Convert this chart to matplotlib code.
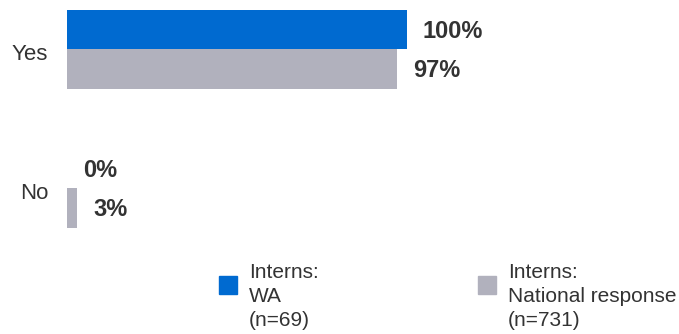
import numpy as np
import matplotlib
matplotlib.use("Agg")
import matplotlib.pyplot as plt
from matplotlib.patches import Rectangle

plt.rcParams['font.family'] = ['Liberation Sans', 'DejaVu Sans']

# -----------------------------
# Data
# -----------------------------
categories = ["Yes", "No"]
wa_values = [100, 0]
national_values = [97, 3]
series_labels = ["Interns:\nWA\n(n=69)", "Interns:\nNational response\n(n=731)"]
series_colors = ["#006AD0", "#B1B1BD"]
text_color = "#333333"

W, H = 679, 334
fig = plt.figure(figsize=(W / 100, H / 100), dpi=100)

# axes placed in pixel terms: bars start at x=67, 100% ends at x=407
ax_left, ax_right = 67, 407
ax_top, ax_bottom = 0, 240
ax = fig.add_axes([ax_left / W, 1 - ax_bottom / H,
                   (ax_right - ax_left) / W, (ax_bottom - ax_top) / H])

unit = 139.0  # pixels between group centres
bar_h = 39.5 / unit
ypos = np.arange(len(categories))

ax.barh(ypos - bar_h / 2, wa_values, height=bar_h, color=series_colors[0])
ax.barh(ypos + bar_h / 2, national_values, height=bar_h, color=series_colors[1])

ax.set_xlim(0, 100)
ax.set_ylim((ax_bottom - 49) / unit, (ax_top - 49) / unit)

# value labels
for vals, off in [(wa_values, -bar_h / 2), (national_values, bar_h / 2)]:
    for y, v in zip(ypos, vals):
        ax.annotate(f"{v}%", (v, y + off), xytext=(16 * 0.72, -1.5),
                    textcoords="offset points", ha="left", va="center",
                    fontsize=17, fontweight="bold", color=text_color)

ax.set_yticks(ypos + 0.025)
ax.set_yticklabels(categories, fontsize=16, color=text_color)
ax.tick_params(axis="y", length=0, pad=13.5)
ax.set_xticks([])
for s in ax.spines.values():
    s.set_visible(False)

# legend drawn manually
leg_x = [219, 478]
for x, lab, col in zip(leg_x, series_labels, series_colors):
    fig.patches.append(Rectangle((x / W, 1 - 294 / H), 18 / W, 18 / H,
                                 transform=fig.transFigure, color=col))
    fig.text((x + 30) / W, 1 - 263 / H, lab, ha="left", va="top",
             fontsize=15, color=text_color, linespacing=1.32)

fig.savefig("out.png", dpi=100)
